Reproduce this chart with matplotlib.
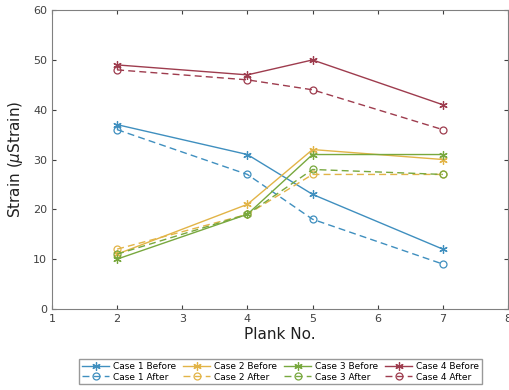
import matplotlib.pyplot as plt

planks = [2, 4, 5, 7]
case1_before = [37, 31, 23, 12]
case1_after = [36, 27, 18, 9]
case2_before = [11, 21, 32, 30]
case2_after = [12, 19, 27, 27]
case3_before = [10, 19, 31, 31]
case3_after = [11, 19, 28, 27]
case4_before = [49, 47, 50, 41]
case4_after = [48, 46, 44, 36]

colors = ['#3f8fbf', '#e2b447', '#78a83e', '#9e3c4e']
series = [(case1_before, case1_after), (case2_before, case2_after),
          (case3_before, case3_after), (case4_before, case4_after)]

fig = plt.figure(figsize=(5.1, 3.9), dpi=100)
ax = fig.add_axes([0.102, 0.208, 0.894, 0.766])
for i, ((bef, aft), c) in enumerate(zip(series, colors)):
    ax.plot(planks, bef, '-', marker=(6, 2, 0), color=c, lw=1.0, ms=6,
            mew=0.9, label=f'Case {i + 1} Before')
    ax.plot(planks, aft, '--', marker='o', color=c, lw=1.0, ms=5,
            mfc='none', mew=0.9, dashes=(5, 3), label=f'Case {i + 1} After')

ax.set_xlim(1, 8)
ax.set_ylim(0, 60)
ax.set_xticks(range(1, 9))
ax.set_yticks(range(0, 61, 10))
ax.tick_params(direction='in', top=True, right=True, labelsize=8,
               colors='#404040', length=3)
for s in ax.spines.values():
    s.set_color('#808080')
ax.set_xlabel('Plank No.', fontsize=11, color='#202020', labelpad=2)
ax.set_ylabel(r'Strain ($\mu$Strain)', fontsize=11, color='#202020', labelpad=6)

fig.legend(loc='lower center', bbox_to_anchor=(0.55, 0.01), ncol=4,
           fontsize=6.5, frameon=True, fancybox=False, edgecolor='#808080',
           handlelength=3, columnspacing=0.8, handletextpad=0.4,
           borderpad=0.3, labelspacing=0.2, borderaxespad=0.2)

fig.savefig('out.png', dpi=100)
